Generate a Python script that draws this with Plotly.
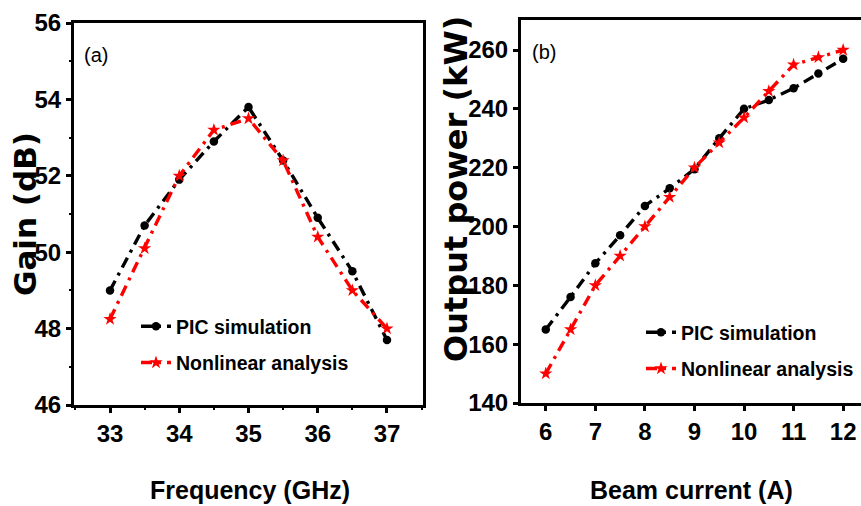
import plotly.graph_objects as go

# ---------------- data ----------------
freq = [33, 33.5, 34, 34.5, 35, 35.5, 36, 36.5, 37]
gain_pic = [49.0, 50.7, 51.9, 52.9, 53.8, 52.4, 50.9, 49.5, 47.7]
gain_nl = [48.25, 50.1, 52.0, 53.2, 53.5, 52.4, 50.4, 49.0, 48.0]

current = [6, 6.5, 7, 7.5, 8, 8.5, 9, 9.5, 10, 10.5, 11, 11.5, 12]
power_pic = [165, 176, 187.5, 197, 207, 213, 219.5, 230, 240, 243, 247, 252, 257]
power_nl = [150, 165, 180, 190, 200, 210, 220, 228.5, 237, 246, 255, 257.5, 260]

series_names = ["PIC simulation", "Nonlinear analysis"]
panel_labels = ["(a)", "(b)"]
x_titles = ["Frequency (GHz)", "Beam current (A)"]
y_titles = ["Gain (dB)", "Output power (kW)"]

# ---------------- styles ----------------
W, H = 861, 506
NARROW = "Liberation Sans Narrow, Liberation Sans, Arial"
WIDE = "DejaVu Sans, Liberation Sans, Arial"
DASH = "11px,6px,3px,6px"
BLACK = "#000000"
RED = "#ff0000"


def px_x(p):
    return p / W


def px_y(p):
    return 1 - p / H


# plot area pixel boxes (page pixels)
A = dict(x0=74, x1=423, y0=23, y1=405)
B = dict(x0=521, x1=861, y0=20, y1=403)

fig = go.Figure()


def add_series(x, y, name, color, symbol, size, xa, ya, leg, grp):
    fig.add_trace(go.Scatter(x=x, y=y, mode="lines+markers", name=name,
                             line=dict(color=color, width=3.4, dash=DASH),
                             marker=dict(symbol=symbol, size=size, color=color),
                             xaxis=xa, yaxis=ya, legend=leg, legendgroup=grp))


add_series(freq, gain_pic, series_names[0], BLACK, "circle", 8.5, "x", "y", "legend", "a1")
add_series(freq, gain_nl, series_names[1], RED, "star", 10, "x", "y", "legend", "a2")
add_series(current, power_pic, series_names[0], BLACK, "circle", 8.5, "x2", "y2", "legend2", "b1")
add_series(current, power_nl, series_names[1], RED, "star", 10, "x2", "y2", "legend2", "b2")

tickfont = dict(family=NARROW, size=24, color=BLACK, weight="bold")


def main_axis(domain, rng, dtick, anchor, minor_dtick=None):
    d = dict(domain=domain, range=rng, dtick=dtick, tick0=0, anchor=anchor,
             showline=True, linecolor=BLACK, linewidth=3, mirror=True,
             ticks="outside", ticklen=5, tickwidth=2.5, tickcolor=BLACK,
             showgrid=False, zeroline=False, tickfont=tickfont, fixedrange=True,
             automargin=False)
    if minor_dtick:
        d["minor"] = dict(dtick=minor_dtick, ticks="outside", ticklen=2, tickwidth=2, tickcolor=BLACK)
    return d


def overlay_axis(rng, dtick, overlaying, side, anchor, minor_dtick=None):
    d = dict(range=rng, dtick=dtick, tick0=0, overlaying=overlaying, side=side, anchor=anchor,
             showline=False, ticks="inside", ticklen=7, tickwidth=2.5, tickcolor=BLACK,
             showticklabels=False, showgrid=False, zeroline=False, fixedrange=True,
             automargin=False)
    if minor_dtick:
        d["minor"] = dict(dtick=minor_dtick, ticks="inside", ticklen=3, tickwidth=2, tickcolor=BLACK)
    return d


xa_rng = [32.48, 37.52]
ya_rng = [46, 56]
xb_rng = [5.5, 12.36]
yb_rng = [140, 270.2]

xa_dom = [px_x(A["x0"]), px_x(A["x1"])]
ya_dom = [px_y(A["y1"]), px_y(A["y0"])]
xb_dom = [px_x(B["x0"]), min(1.0, px_x(B["x1"]))]
yb_dom = [px_y(B["y1"]), px_y(B["y0"])]

legfont = dict(family=NARROW, size=19.5, color=BLACK, weight="bold")

fig.update_layout(
    width=W, height=H,
    margin=dict(l=0, r=0, t=0, b=0, autoexpand=False),
    paper_bgcolor="white", plot_bgcolor="white",
    xaxis=main_axis(xa_dom, xa_rng, 1, "y", 0.5),
    yaxis=main_axis(ya_dom, ya_rng, 2, "x", 1),
    xaxis2=main_axis(xb_dom, xb_rng, 1, "y2"),
    yaxis2=main_axis(yb_dom, yb_rng, 20, "x2"),
    xaxis3=overlay_axis(xa_rng, 1, "x", "top", "y", 0.5),
    yaxis3=overlay_axis(ya_rng, 2, "y", "right", "x", 1),
    xaxis4=overlay_axis(xb_rng, 1, "x2", "top", "y2"),
    yaxis4=overlay_axis(yb_rng, 20, "y2", "right", "x2"),
    legend=dict(x=px_x(136), y=px_y(307), xanchor="left", yanchor="top",
                bgcolor="rgba(0,0,0,0)", borderwidth=0, font=legfont,
                itemwidth=30, tracegroupgap=8),
    legend2=dict(x=px_x(641), y=px_y(313), xanchor="left", yanchor="top",
                 bgcolor="rgba(0,0,0,0)", borderwidth=0, font=legfont,
                 itemwidth=30, tracegroupgap=8),
    showlegend=True,
)


def ann(text, x, y, font, angle=0):
    return dict(text=text, x=px_x(x), y=px_y(y), xref="paper", yref="paper",
                xanchor="center", yanchor="middle", showarrow=False,
                textangle=angle, font=font)


annotations = [
    ann(panel_labels[0], 96, 55, dict(family=NARROW, size=20, color=BLACK)),
    ann(panel_labels[1], 544, 52, dict(family=NARROW, size=20, color=BLACK)),
    ann(x_titles[0], 250, 490, dict(family=NARROW, size=25, color=BLACK, weight="bold")),
    ann(x_titles[1], 691, 490, dict(family=NARROW, size=25, color=BLACK, weight="bold")),
    ann(y_titles[0], 25, 214, dict(family=WIDE, size=31, color=BLACK, weight="bold"), -90),
    ann(y_titles[1], 456, 189, dict(family=WIDE, size=32, color=BLACK, weight="bold"), -90),
]
fig.update_layout(annotations=annotations)

fig.write_html(
    "out.html",
    config={"displayModeBar": False},
    post_script="document.body.style.margin='0';document.body.style.overflow='hidden';",
)
